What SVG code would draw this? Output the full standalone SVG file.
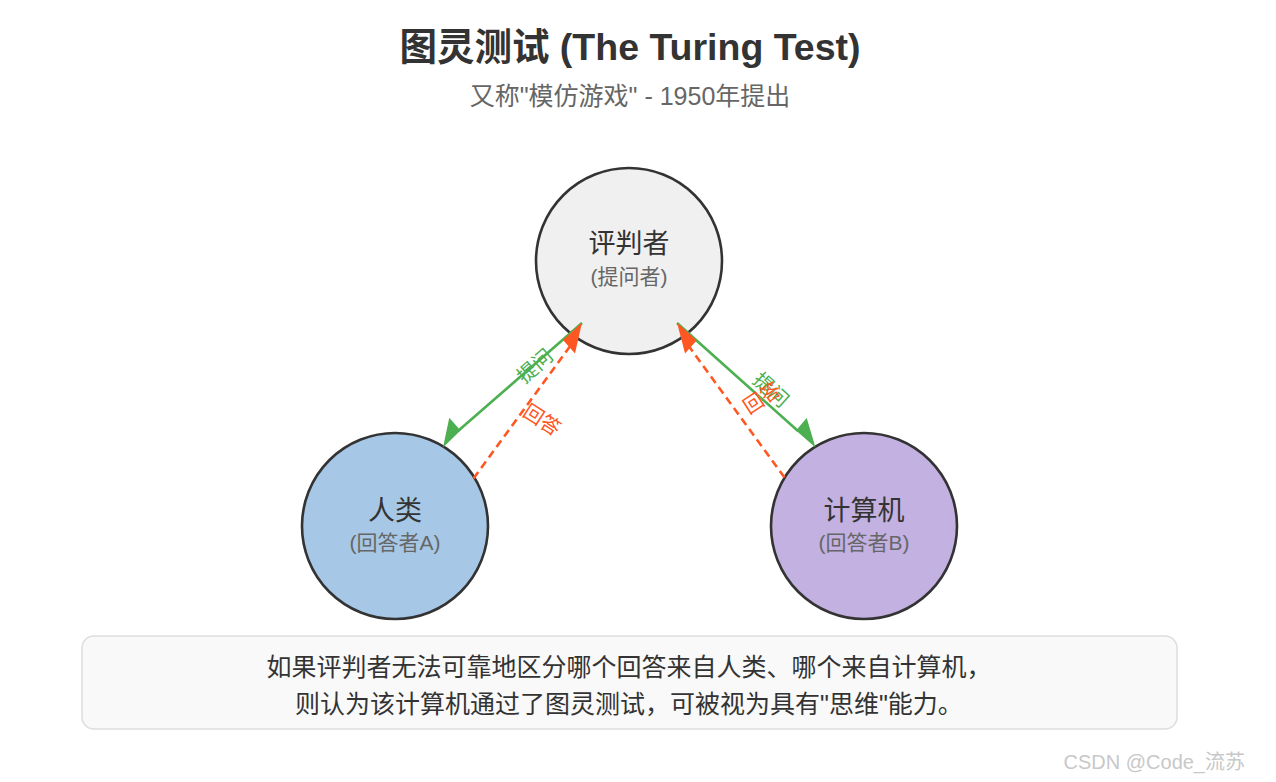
<svg xmlns="http://www.w3.org/2000/svg" width="1276" height="782" viewBox="0 0 1276 782">
<style>
  text { font-family: "Liberation Sans", "Noto Sans CJK SC", sans-serif; }
  .title { font-size: 37.5px; font-weight: bold; fill: #333; text-anchor: middle; }
  .subtitle { font-size: 25px; fill: #666; text-anchor: middle; }
  .node { stroke: #333; stroke-width: 2.6; }
  .main { font-size: 27px; fill: #333; text-anchor: middle; }
  .sub { font-size: 21px; fill: #666; text-anchor: middle; }
  .ask { stroke: #4caf50; stroke-width: 2.6; fill: none; }
  .ans { stroke: #ff5722; stroke-width: 2.6; fill: none; stroke-dasharray: 8 5; }
  .askhead { fill: #4caf50; }
  .anshead { fill: #ff5722; }
  .asklabel { font-size: 20px; fill: #4caf50; text-anchor: middle; dominant-baseline: central; }
  .anslabel { font-size: 20px; fill: #ff5722; text-anchor: middle; dominant-baseline: central; }
  .note { font-size: 25px; fill: #333; text-anchor: middle; }
  .mark { font-size: 20px; fill: #c8c8c8; text-anchor: end; }
</style>
<rect width="1276" height="782" fill="#ffffff"/>
<g id="title">
  <text class="title" x="630" y="60">图灵测试 (The Turing Test)</text>
  <text class="subtitle" x="630" y="105">又称"模仿游戏" - 1950年提出</text>
</g>
<g id="judge">
  <circle class="node" cx="629" cy="261" r="93" fill="#f0f0f0"/>
  <text class="main" x="629" y="253">评判者</text>
  <text class="sub" x="629" y="284">(提问者)</text>
</g>
<g id="human">
  <circle class="node" cx="395" cy="526" r="93" fill="#a6c8e6"/>
  <text class="main" x="395" y="520">人类</text>
  <text class="sub" x="395" y="550">(回答者A)</text>
</g>
<g id="computer">
  <circle class="node" cx="864" cy="526" r="93" fill="#c3b1e1"/>
  <text class="main" x="864" y="520">计算机</text>
  <text class="sub" x="864" y="550">(回答者B)</text>
</g>
<g id="connectors">
  <line class="ask" x1="582" y1="323" x2="458" y2="431"/>
  <polygon class="askhead" points="443,447.5 449.3,417.7 460.5,430.5"/>
  <line class="ans" x1="473.5" y1="478.5" x2="571" y2="345"/>
  <polygon class="anshead" points="582,322.5 563,340 575,353.5"/>
  <line class="ask" x1="677" y1="323" x2="798" y2="431"/>
  <polygon class="askhead" points="815.5,447.5 806.7,418 796,430.5"/>
  <line class="ans" x1="784.5" y1="477.5" x2="688" y2="345"/>
  <polygon class="anshead" points="677,322.5 696.7,340.5 685,353.5"/>
  <text class="asklabel" transform="translate(535,366) rotate(-41)">提问</text>
  <text class="anslabel" transform="translate(542,420) rotate(33)">回答</text>
  <text class="asklabel" transform="translate(771,390) rotate(42)">提问</text>
  <text class="anslabel" transform="translate(762,398) rotate(-33)">回答</text>
</g>
<g id="note">
  <rect x="82" y="636" width="1095" height="93" rx="12" fill="#f9f9f9" stroke="#dddddd" stroke-width="1.5"/>
  <text class="note" x="629" y="676">如果评判者无法可靠地区分哪个回答来自人类、哪个来自计算机，</text>
  <text class="note" x="629" y="713">则认为该计算机通过了图灵测试，可被视为具有"思维"能力。</text>
</g>
<text class="mark" x="1245" y="769">CSDN @Code_流苏</text>
</svg>
